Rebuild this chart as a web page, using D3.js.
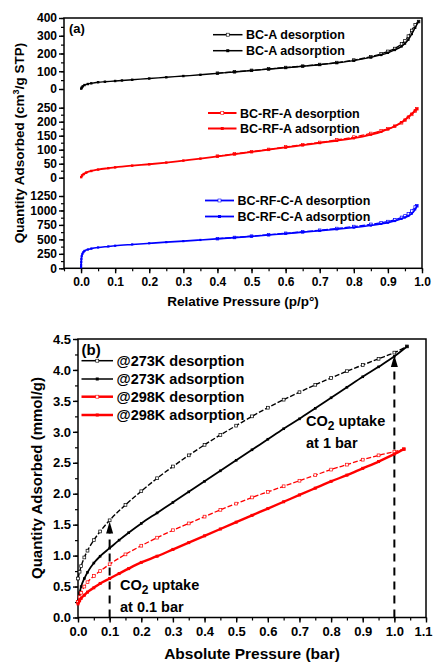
<!DOCTYPE html>
<html>
<head>
<meta charset="utf-8">
<script src="https://cdn.jsdelivr.net/npm/d3@7"></script>
<style>
  body { margin: 0; background: #fff; }
  svg text { font-family: "Liberation Sans", Arial, sans-serif; font-weight: bold; fill: #000; }
</style>
</head>
<body>
<div id="chart"></div>
<script>
// ---- panel (a): N2 isotherms, relative pressure ----
const bcA_adsP = [0.0005, 0.002, 0.005, 0.01, 0.02, 0.03, 0.05, 0.07, 0.1, 0.12, 0.15, 0.2, 0.25, 0.3, 0.35, 0.4, 0.45, 0.5, 0.55, 0.6, 0.65, 0.7, 0.75, 0.8, 0.85, 0.88, 0.9, 0.92, 0.94, 0.95, 0.96, 0.97, 0.98, 0.99];
const bcA_adsQ = [2, 8, 15, 22, 28, 32, 38, 41, 45, 48, 52, 59, 66, 73, 80, 88, 96, 104, 112, 120, 128, 137, 147, 160, 178, 192, 204, 220, 240, 256, 278, 310, 345, 380];
const bcA_desP = [0.99, 0.98, 0.97, 0.96, 0.95, 0.94, 0.92, 0.9, 0.88, 0.85, 0.8, 0.75, 0.7, 0.65, 0.6, 0.55, 0.5, 0.45, 0.4];
const bcA_desQ = [380, 362, 330, 298, 272, 254, 228, 212, 198, 182, 163, 149, 138, 129, 121, 113, 105, 97, 89];

const rf_adsP = [0.0005, 0.003, 0.008, 0.015, 0.03, 0.05, 0.08, 0.1, 0.15, 0.2, 0.25, 0.3, 0.35, 0.4, 0.45, 0.5, 0.55, 0.6, 0.65, 0.7, 0.75, 0.8, 0.85, 0.88, 0.9, 0.92, 0.94, 0.95, 0.96, 0.97, 0.98, 0.985];
const rf_adsQ = [2, 8, 13, 18, 24, 29, 34, 37, 43, 48, 54, 61, 68, 76, 84, 92, 100, 108, 116, 124, 132, 141, 154, 164, 173, 184, 198, 207, 218, 228, 240, 246];
const rf_desP = [0.985, 0.98, 0.97, 0.96, 0.95, 0.94, 0.92, 0.9, 0.88, 0.85, 0.8, 0.75, 0.7, 0.65, 0.6, 0.55, 0.5, 0.45, 0.4];
const rf_desQ = [246, 238, 226, 215, 205, 196, 184, 175, 168, 158, 145, 135, 126, 118, 110, 101, 93, 85, 77];

const rfc_adsP = [0.0001, 0.0003, 0.0006, 0.001, 0.002, 0.004, 0.007, 0.01, 0.02, 0.03, 0.05, 0.08, 0.1, 0.15, 0.2, 0.25, 0.3, 0.35, 0.4, 0.45, 0.5, 0.55, 0.6, 0.65, 0.7, 0.75, 0.8, 0.85, 0.88, 0.9, 0.92, 0.94, 0.95, 0.96, 0.97, 0.98, 0.985];
const rfc_adsQ = [20, 60, 110, 160, 210, 250, 280, 300, 325, 340, 360, 378, 390, 412, 432, 452, 470, 490, 510, 530, 552, 575, 600, 625, 650, 675, 705, 740, 768, 790, 818, 855, 880, 905, 945, 1020, 1080];
const rfc_desP = [0.985, 0.98, 0.97, 0.96, 0.95, 0.94, 0.92, 0.9, 0.88, 0.85, 0.8, 0.75, 0.7, 0.65, 0.6, 0.55, 0.5, 0.45, 0.4];
const rfc_desQ = [1080, 1060, 990, 940, 905, 880, 840, 808, 788, 760, 722, 688, 658, 630, 605, 580, 556, 533, 512];

const legendA = [
  ["BC-A desorption", "BC-A adsorption"],
  ["BC-RF-A desorption", "BC-RF-A adsorption"],
  ["BC-RF-C-A desorption", "BC-RF-C-A adsorption"]
];
const xTicksA = [0, 0.1, 0.2, 0.3, 0.4, 0.5, 0.6, 0.7, 0.8, 0.9, 1.0];
const yTicksTop = [0, 100, 200, 300, 400];
const yTicksMid = [0, 50, 100, 150, 200, 250];
const yTicksBot = [0, 250, 500, 750, 1000, 1250];

// ---- panel (b): CO2 isotherms, absolute pressure ----
const k273_adsP = [0, 0.005, 0.01, 0.02, 0.03, 0.05, 0.07, 0.1, 0.13, 0.16, 0.2, 0.25, 0.3, 0.35, 0.4, 0.45, 0.5, 0.55, 0.6, 0.65, 0.7, 0.75, 0.8, 0.85, 0.9, 0.95, 1.0, 1.04];
const k273_adsQ = [0.25, 0.4, 0.5, 0.63, 0.73, 0.88, 0.99, 1.12, 1.25, 1.37, 1.52, 1.69, 1.86, 2.03, 2.2, 2.37, 2.54, 2.71, 2.88, 3.05, 3.21, 3.38, 3.55, 3.72, 3.89, 4.05, 4.22, 4.38];
const k273_desP = [1.04, 1.0, 0.95, 0.9, 0.85, 0.8, 0.75, 0.7, 0.65, 0.6, 0.55, 0.5, 0.45, 0.4, 0.35, 0.3, 0.25, 0.2, 0.15, 0.1, 0.07, 0.05, 0.03, 0.02, 0.01, 0.005, 0];
const k273_desQ = [4.38, 4.28, 4.18, 4.08, 3.98, 3.87, 3.76, 3.64, 3.52, 3.39, 3.25, 3.1, 2.95, 2.79, 2.62, 2.44, 2.25, 2.04, 1.82, 1.57, 1.39, 1.25, 1.08, 0.97, 0.83, 0.74, 0.63];
const k298_adsP = [0, 0.005, 0.01, 0.02, 0.03, 0.05, 0.07, 0.1, 0.13, 0.16, 0.2, 0.25, 0.3, 0.35, 0.4, 0.45, 0.5, 0.55, 0.6, 0.65, 0.7, 0.75, 0.8, 0.85, 0.9, 0.95, 1.0, 1.03];
const k298_adsQ = [0.22, 0.27, 0.31, 0.36, 0.41, 0.48, 0.55, 0.63, 0.71, 0.79, 0.89, 0.99, 1.1, 1.21, 1.32, 1.43, 1.54, 1.65, 1.76, 1.87, 1.98, 2.09, 2.2, 2.3, 2.41, 2.52, 2.64, 2.72];
const k298_desP = [1.03, 1.0, 0.95, 0.9, 0.85, 0.8, 0.75, 0.7, 0.65, 0.6, 0.55, 0.5, 0.45, 0.4, 0.35, 0.3, 0.25, 0.2, 0.15, 0.1, 0.07, 0.05, 0.03, 0.02, 0.01, 0.005, 0];
const k298_desQ = [2.72, 2.68, 2.62, 2.55, 2.47, 2.39, 2.3, 2.21, 2.12, 2.03, 1.94, 1.84, 1.74, 1.63, 1.52, 1.41, 1.29, 1.16, 1.02, 0.86, 0.75, 0.67, 0.57, 0.5, 0.4, 0.33, 0.25];

const legendB = ["@273K desorption", "@273K adsorption", "@298K desorption", "@298K adsorption"];
const xTicksB = [0, 0.1, 0.2, 0.3, 0.4, 0.5, 0.6, 0.7, 0.8, 0.9, 1.0, 1.1];
const yTicksB = [0, 0.5, 1.0, 1.5, 2.0, 2.5, 3.0, 3.5, 4.0, 4.5];
const arrowsB = [{ p: 0.1, top: 1.55 }, { p: 1.0, top: 4.24 }];

const width = 433;
const height = 662;

const svg = d3.select("#chart").append("svg")
  .attr("width", width)
  .attr("height", height);

function zip(ps, qs) {
  return ps.map((p, i) => [p, qs[i]]);
}

function drawSeries(g, x, y, pts, color, opts) {
  const sorted = pts.slice().sort((a, b) => a[0] - b[0]);
  const line = d3.line()
    .x(d => x(d[0]))
    .y(d => y(d[1]))
    .curve(d3.curveMonotoneX);
  g.append("path")
    .datum(sorted)
    .attr("fill", "none")
    .attr("stroke", color)
    .attr("stroke-width", opts.lw)
    .attr("stroke-dasharray", opts.dash || null)
    .attr("d", line);
  const s = opts.ms;
  g.selectAll(null)
    .data(pts)
    .enter()
    .append("rect")
    .attr("x", d => x(d[0]) - s / 2)
    .attr("y", d => y(d[1]) - s / 2)
    .attr("width", s)
    .attr("height", s)
    .attr("fill", opts.hollow ? "#fff" : color)
    .attr("stroke", opts.hollow ? color : "none")
    .attr("stroke-width", 0.7);
}

function legendEntry(g, x0, x1, y, color, label, hollow, lw, fs) {
  g.append("line")
    .attr("x1", x0).attr("x2", x1)
    .attr("y1", y).attr("y2", y)
    .attr("stroke", color)
    .attr("stroke-width", lw);
  const m = (x0 + x1) / 2;
  g.append("rect")
    .attr("x", m - 1.5).attr("y", y - 1.5)
    .attr("width", 3).attr("height", 3)
    .attr("fill", hollow ? "#fff" : color)
    .attr("stroke", hollow ? color : "none")
    .attr("stroke-width", 0.6);
  g.append("text")
    .attr("x", x1 + 3.5)
    .attr("y", y + fs * 0.36)
    .style("font-size", fs + "px")
    .text(label);
}

function styleTicks(a, fs) {
  a.select(".domain").remove();
  a.selectAll("line").attr("stroke-width", 1.4);
  a.selectAll("text")
    .style("font-size", fs + "px")
    .style("font-family", "Liberation Sans, Arial")
    .style("font-weight", "bold");
}

// ================= panel (a) =================
const xA = d3.scaleLinear().domain([-0.05, 1.0]).range([64, 422]);
const yTop = d3.scaleLinear().domain([0, 400]).range([89, 18]);
const yMid = d3.scaleLinear().domain([0, 250]).range([177.7, 107.7]);
const yBot = d3.scaleLinear().domain([0, 1250]).range([268.3, 196]);

const gA = svg.append("g");

// y axes, one per stacked section
function sectionAxis(scale, ticks, minorStep) {
  const minor = [];
  for (let v = 0; v <= ticks[ticks.length - 1] + 1e-9; v += minorStep) minor.push(v);
  gA.append("g")
    .attr("transform", "translate(64,0)")
    .call(d3.axisLeft(scale).tickValues(minor).tickSize(3).tickFormat(""))
    .call(a => a.select(".domain").remove())
    .call(a => a.selectAll("line").attr("stroke-width", 1.2));
  gA.append("g")
    .attr("transform", "translate(64,0)")
    .call(d3.axisLeft(scale).tickValues(ticks).tickSize(5).tickPadding(2).tickFormat(d3.format("d")))
    .call(a => styleTicks(a, 12));
}
sectionAxis(yTop, yTicksTop, 50);
sectionAxis(yMid, yTicksMid, 25);
sectionAxis(yBot, yTicksBot, 125);

// x axis
gA.append("g")
  .attr("transform", "translate(0,268.3)")
  .call(d3.axisBottom(xA).tickValues(d3.range(-0.05, 1.001, 0.05)).tickSize(3).tickFormat(""))
  .call(a => a.select(".domain").remove())
  .call(a => a.selectAll("line").attr("stroke-width", 1.2));
gA.append("g")
  .attr("transform", "translate(0,268.3)")
  .call(d3.axisBottom(xA).tickValues(xTicksA).tickSize(5).tickPadding(4).tickFormat(d3.format(".1f")))
  .call(a => styleTicks(a, 12));

// frame
gA.append("rect")
  .attr("x", 64).attr("y", 18)
  .attr("width", 422 - 64).attr("height", 268.3 - 18)
  .attr("fill", "none")
  .attr("stroke", "#000")
  .attr("stroke-width", 1.5);

drawSeries(gA, xA, yTop, zip(bcA_desP, bcA_desQ), "#000", { lw: 1.3, ms: 2.6, hollow: true, dash: "6,1.5" });
drawSeries(gA, xA, yTop, zip(bcA_adsP, bcA_adsQ), "#000", { lw: 1.4, ms: 2.4, hollow: false });
drawSeries(gA, xA, yMid, zip(rf_desP, rf_desQ), "#ff0000", { lw: 1.3, ms: 2.6, hollow: true, dash: "6,1.5" });
drawSeries(gA, xA, yMid, zip(rf_adsP, rf_adsQ), "#ff0000", { lw: 1.8, ms: 2.4, hollow: false });
drawSeries(gA, xA, yBot, zip(rfc_desP, rfc_desQ), "#0000ff", { lw: 1.3, ms: 2.6, hollow: true, dash: "6,1.5" });
drawSeries(gA, xA, yBot, zip(rfc_adsP, rfc_adsQ), "#0000ff", { lw: 1.6, ms: 2.2, hollow: false });

legendEntry(gA, 213, 242.5, 34.7, "#000", legendA[0][0], true, 1.5, 12.5);
legendEntry(gA, 213, 242.5, 50.7, "#000", legendA[0][1], false, 1.5, 12.5);
legendEntry(gA, 208, 236.5, 113, "#ff0000", legendA[1][0], true, 2, 12.5);
legendEntry(gA, 208, 236.5, 128.5, "#ff0000", legendA[1][1], false, 2, 12.5);
legendEntry(gA, 205, 234, 200.5, "#0000ff", legendA[2][0], true, 1.8, 12.5);
legendEntry(gA, 205, 234, 216.5, "#0000ff", legendA[2][1], false, 1.8, 12.5);

gA.append("text").attr("x", 69).attr("y", 32.5).style("font-size", "13px").text("(a)");

gA.append("text")
  .attr("x", 243).attr("y", 306)
  .attr("text-anchor", "middle")
  .style("font-size", "13.5px")
  .text("Relative Pressure (p/p°)");

const yTitleA = gA.append("text")
  .attr("transform", "translate(24,143) rotate(-90)")
  .attr("text-anchor", "middle")
  .style("font-size", "13.5px");
yTitleA.append("tspan").text("Quantity Adsorbed (cm");
yTitleA.append("tspan").attr("dy", -5).style("font-size", "9px").text("3");
yTitleA.append("tspan").attr("dy", 5).text("/g STP)");

// ================= panel (b) =================
const xB = d3.scaleLinear().domain([0, 1.1]).range([78, 426]);
const yB = d3.scaleLinear().domain([0, 4.5]).range([617.5, 339]);
const gB = svg.append("g");

gB.append("g")
  .attr("transform", "translate(78,0)")
  .call(d3.axisLeft(yB).tickValues(d3.range(0, 4.501, 0.25)).tickSize(3).tickFormat(""))
  .call(a => a.select(".domain").remove())
  .call(a => a.selectAll("line").attr("stroke-width", 1.2));
gB.append("g")
  .attr("transform", "translate(78,0)")
  .call(d3.axisLeft(yB).tickValues(yTicksB).tickSize(5).tickPadding(2).tickFormat(d3.format(".1f")))
  .call(a => styleTicks(a, 13));

gB.append("g")
  .attr("transform", "translate(0,617.5)")
  .call(d3.axisBottom(xB).tickValues(d3.range(0, 1.101, 0.05)).tickSize(3).tickFormat(""))
  .call(a => a.select(".domain").remove())
  .call(a => a.selectAll("line").attr("stroke-width", 1.2));
gB.append("g")
  .attr("transform", "translate(0,617.5)")
  .call(d3.axisBottom(xB).tickValues(xTicksB).tickSize(5).tickPadding(4).tickFormat(d3.format(".1f")))
  .call(a => styleTicks(a, 13))
  .call(a => a.selectAll(".tick text").filter(d => d > 1.05).attr("x", -3));

gB.append("rect")
  .attr("x", 78).attr("y", 339)
  .attr("width", 426 - 78).attr("height", 617.5 - 339)
  .attr("fill", "none")
  .attr("stroke", "#000")
  .attr("stroke-width", 1.5);

drawSeries(gB, xB, yB, zip(k273_desP, k273_desQ), "#000", { lw: 1.4, ms: 2.8, hollow: true, dash: "5,2" });
drawSeries(gB, xB, yB, zip(k273_adsP, k273_adsQ), "#000", { lw: 1.8, ms: 2.6, hollow: false });
drawSeries(gB, xB, yB, zip(k298_desP, k298_desQ), "#ff0000", { lw: 1.3, ms: 2.8, hollow: true, dash: "5,2" });
drawSeries(gB, xB, yB, zip(k298_adsP, k298_adsQ), "#ff0000", { lw: 2.4, ms: 3, hollow: false });

// dashed arrows marking uptake at 0.1 and 1 bar
arrowsB.forEach(a => {
  const xp = xB(a.p);
  const tip = yB(a.top);
  gB.append("line")
    .attr("x1", xp).attr("x2", xp)
    .attr("y1", yB(0)).attr("y2", tip + 10)
    .attr("stroke", "#000")
    .attr("stroke-width", 2)
    .attr("stroke-dasharray", "8,6");
  gB.append("path")
    .attr("d", `M${xp},${tip} L${xp - 3.5},${tip + 12} L${xp + 3.5},${tip + 12} Z`)
    .attr("fill", "#000");
});

function co2Text(x, y, rest) {
  const t = gB.append("text").attr("x", x).attr("y", y).style("font-size", "14.5px");
  t.append("tspan").text("CO");
  t.append("tspan").attr("dy", 4).style("font-size", "12px").text("2");
  t.append("tspan").attr("dy", -4).text(" uptake");
  gB.append("text").attr("x", x).attr("y", y + 22).style("font-size", "14.5px").text(rest);
}
co2Text(120, 590, "at 0.1 bar");
co2Text(306, 426, "at 1 bar");

legendEntry(gB, 81.5, 113, 360.7, "#000", legendB[0], true, 1.5, 14.5);
legendEntry(gB, 81.5, 113, 379, "#000", legendB[1], false, 1.5, 14.5);
legendEntry(gB, 81.5, 113, 396.7, "#ff0000", legendB[2], true, 2.5, 14.5);
legendEntry(gB, 81.5, 113, 415, "#ff0000", legendB[3], false, 2.5, 14.5);

gB.append("text").attr("x", 81.5).attr("y", 355).style("font-size", "15px").text("(b)");

gB.append("text")
  .attr("x", 252).attr("y", 659)
  .attr("text-anchor", "middle")
  .style("font-size", "15.5px")
  .text("Absolute Pressure (bar)");

gB.append("text")
  .attr("transform", "translate(42,478) rotate(-90)")
  .attr("text-anchor", "middle")
  .style("font-size", "15px")
  .text("Quantity Adsorbed (mmol/g)");
</script>
</body>
</html>
